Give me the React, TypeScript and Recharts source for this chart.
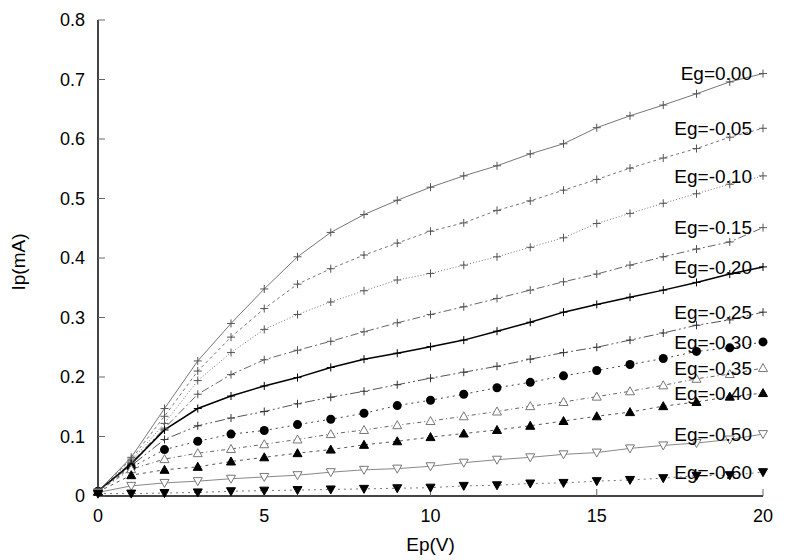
import React from 'react'
import { LineChart, Line, XAxis, YAxis, ReferenceDot } from 'recharts'

// plate voltage (V)
const ep = [0, 1, 2, 3, 4, 5, 6, 7, 8, 9, 10, 11, 12, 13, 14, 15, 16, 17, 18, 19, 20]

// plate current (mA) for each grid voltage
const eg000 = [0.008, 0.065, 0.147, 0.227, 0.29, 0.348, 0.402, 0.443, 0.473, 0.497, 0.519, 0.538, 0.555, 0.575, 0.592, 0.619, 0.639, 0.657, 0.676, 0.696, 0.71]
const eg005 = [0.008, 0.062, 0.134, 0.21, 0.267, 0.315, 0.356, 0.382, 0.405, 0.425, 0.445, 0.459, 0.48, 0.496, 0.514, 0.532, 0.551, 0.568, 0.584, 0.603, 0.618]
const eg010 = [0.008, 0.059, 0.122, 0.194, 0.241, 0.28, 0.305, 0.326, 0.345, 0.363, 0.374, 0.388, 0.402, 0.418, 0.434, 0.458, 0.475, 0.492, 0.508, 0.524, 0.538]
const eg015 = [0.008, 0.056, 0.114, 0.171, 0.204, 0.229, 0.245, 0.26, 0.276, 0.291, 0.305, 0.318, 0.332, 0.346, 0.36, 0.373, 0.388, 0.402, 0.415, 0.427, 0.451]
const eg020 = [0.008, 0.054, 0.111, 0.147, 0.168, 0.185, 0.199, 0.216, 0.23, 0.24, 0.251, 0.262, 0.277, 0.292, 0.309, 0.322, 0.334, 0.346, 0.359, 0.373, 0.385]
const eg025 = [0.008, 0.051, 0.095, 0.118, 0.131, 0.142, 0.155, 0.166, 0.176, 0.187, 0.198, 0.208, 0.218, 0.23, 0.241, 0.25, 0.262, 0.274, 0.287, 0.296, 0.309]
const eg030 = [0.008, 0.048, 0.078, 0.092, 0.104, 0.11, 0.12, 0.129, 0.139, 0.152, 0.161, 0.171, 0.182, 0.191, 0.202, 0.211, 0.221, 0.231, 0.243, 0.249, 0.259]
const eg035 = [0.008, 0.045, 0.062, 0.072, 0.079, 0.087, 0.095, 0.104, 0.111, 0.119, 0.126, 0.134, 0.142, 0.151, 0.158, 0.167, 0.176, 0.186, 0.197, 0.205, 0.215]
const eg040 = [0.007, 0.035, 0.044, 0.049, 0.058, 0.065, 0.072, 0.078, 0.086, 0.092, 0.099, 0.105, 0.111, 0.118, 0.126, 0.134, 0.141, 0.151, 0.158, 0.167, 0.173]
const eg050 = [0.006, 0.017, 0.022, 0.025, 0.029, 0.032, 0.035, 0.04, 0.044, 0.046, 0.05, 0.056, 0.061, 0.065, 0.07, 0.073, 0.08, 0.085, 0.089, 0.095, 0.104]
const eg060 = [0.004, 0.004, 0.005, 0.006, 0.008, 0.009, 0.01, 0.011, 0.012, 0.013, 0.014, 0.017, 0.018, 0.021, 0.022, 0.025, 0.027, 0.03, 0.034, 0.035, 0.04]

const egLabels = ['Eg=0.00', 'Eg=-0.05', 'Eg=-0.10', 'Eg=-0.15', 'Eg=-0.20', 'Eg=-0.25', 'Eg=-0.30', 'Eg=-0.35', 'Eg=-0.40', 'Eg=-0.50', 'Eg=-0.60']
const allSeries = [eg000, eg005, eg010, eg015, eg020, eg025, eg030, eg035, eg040, eg050, eg060]

const xTicks = [0, 5, 10, 15, 20]
const yTicks = [0, 0.1, 0.2, 0.3, 0.4, 0.5, 0.6, 0.7, 0.8]

const data = ep.map((x, i) => {
  const row: Record<string, number> = { ep: x }
  allSeries.forEach((s, k) => { row['s' + k] = s[i] })
  return row
})

const FONT = '"Liberation Sans", Arial, Helvetica, sans-serif'
const BORDER = '#444'

type Dot = (p: any) => React.ReactElement

const plus = (c: string): Dot => (p) => (
  <path key={p.index} d={`M${p.cx - 4},${p.cy}h8M${p.cx},${p.cy - 4}v8`} stroke={c} strokeWidth={1} fill="none" />
)
const disc: Dot = (p) => <circle key={p.index} cx={p.cx} cy={p.cy} r={4.5} fill="#000" />
const triUp = (fill: string, stroke: string): Dot => (p) => (
  <path key={p.index} d={`M${p.cx},${p.cy - 4.5}L${p.cx + 4.5},${p.cy + 3.5}L${p.cx - 4.5},${p.cy + 3.5}Z`} fill={fill} stroke={stroke} strokeWidth={1} />
)
const triDown = (fill: string, stroke: string): Dot => (p) => (
  <path key={p.index} d={`M${p.cx},${p.cy + 4.5}L${p.cx + 4.5},${p.cy - 3.5}L${p.cx - 4.5},${p.cy - 3.5}Z`} fill={fill} stroke={stroke} strokeWidth={1} />
)

const styles = [
  { stroke: '#777', width: 1, dash: undefined, dot: plus('#555') },
  { stroke: '#777', width: 1, dash: '3 3', dot: plus('#555') },
  { stroke: '#777', width: 1, dash: '1 2', dot: plus('#555') },
  { stroke: '#666', width: 1, dash: '8 3 2 3', dot: plus('#555') },
  { stroke: '#000', width: 1.5, dash: undefined, dot: plus('#000') },
  { stroke: '#555', width: 1, dash: '10 3 2 3 2 3', dot: plus('#333') },
  { stroke: '#444', width: 1, dash: '2 4', dot: disc },
  { stroke: '#666', width: 1, dash: '4 3 1 3', dot: triUp('#fff', '#777') },
  { stroke: '#555', width: 1, dash: '3 4', dot: triUp('#000', '#000') },
  { stroke: '#888', width: 1, dash: undefined, dot: triDown('#fff', '#777') },
  { stroke: '#777', width: 1, dash: '2 4', dot: triDown('#000', '#000') },
]

export default function App() {
  return (
    <div style={{ position: 'absolute', left: 0, top: 0, background: '#fff', fontFamily: FONT }}>
      <LineChart width={800} height={560} data={data} margin={{ top: 20, right: 37, bottom: 34, left: 38 }}>
        <XAxis
          dataKey="ep" type="number" domain={[0, 20]} ticks={xTicks} height={30}
          axisLine={{ stroke: BORDER, strokeWidth: 2 }} tickLine={{ stroke: '#666' }}
          tickSize={-7} tickMargin={20} tick={{ fontSize: 18, fill: '#000', fontFamily: FONT }}
          label={{
            content: (p: any) => (
              <text x={p.viewBox.x + p.viewBox.width / 2} y={p.viewBox.y + 50} textAnchor="middle"
                dominantBaseline="middle" fontSize={19} fontFamily={FONT} fill="#000">Ep(V)</text>
            ),
          }}
        />
        <XAxis
          xAxisId="top" orientation="top" dataKey="ep" type="number" domain={[0, 20]} ticks={xTicks}
          height={0} tick={false} tickSize={-7} axisLine={{ stroke: BORDER, strokeWidth: 2 }} tickLine={{ stroke: '#666' }}
        />
        <YAxis
          type="number" domain={[0, 0.8]} ticks={yTicks} width={60}
          axisLine={{ stroke: BORDER, strokeWidth: 2 }} tickLine={{ stroke: '#666' }}
          tickSize={-7} tickMargin={20} tick={{ fontSize: 18, fill: '#000', fontFamily: FONT }}
          tickFormatter={(v: number) => (v === 0 ? '0' : String(v))}
          label={{
            content: (p: any) => (
              <text x={p.viewBox.x - 18} y={p.viewBox.y + p.viewBox.height / 2 + 4} textAnchor="middle"
                dominantBaseline="middle" fontSize={19} fontFamily={FONT} fill="#000"
                transform={`rotate(-90 ${p.viewBox.x - 18} ${p.viewBox.y + p.viewBox.height / 2 + 4})`}>Ip(mA)</text>
            ),
          }}
        />
        <YAxis
          yAxisId="right" orientation="right" type="number" domain={[0, 0.8]} ticks={yTicks}
          width={0} tick={false} tickSize={-7} axisLine={{ stroke: BORDER, strokeWidth: 2 }} tickLine={{ stroke: '#666' }}
        />
        {styles.map((s, k) => (
          <Line
            key={k} dataKey={'s' + k} type="linear" stroke={s.stroke} strokeWidth={s.width}
            strokeDasharray={s.dash} dot={s.dot} activeDot={false} isAnimationActive={false}
          />
        ))}
        {allSeries.map((s, k) => (
          <ReferenceDot
            key={'l' + k} x={ep[ep.length - 1]} y={s[s.length - 1]} r={0} stroke="none" fill="none"
            label={{ value: egLabels[k], position: 'left', offset: 11, fontSize: 19, fill: '#000', fontFamily: FONT }}
          />
        ))}
      </LineChart>
    </div>
  )
}
